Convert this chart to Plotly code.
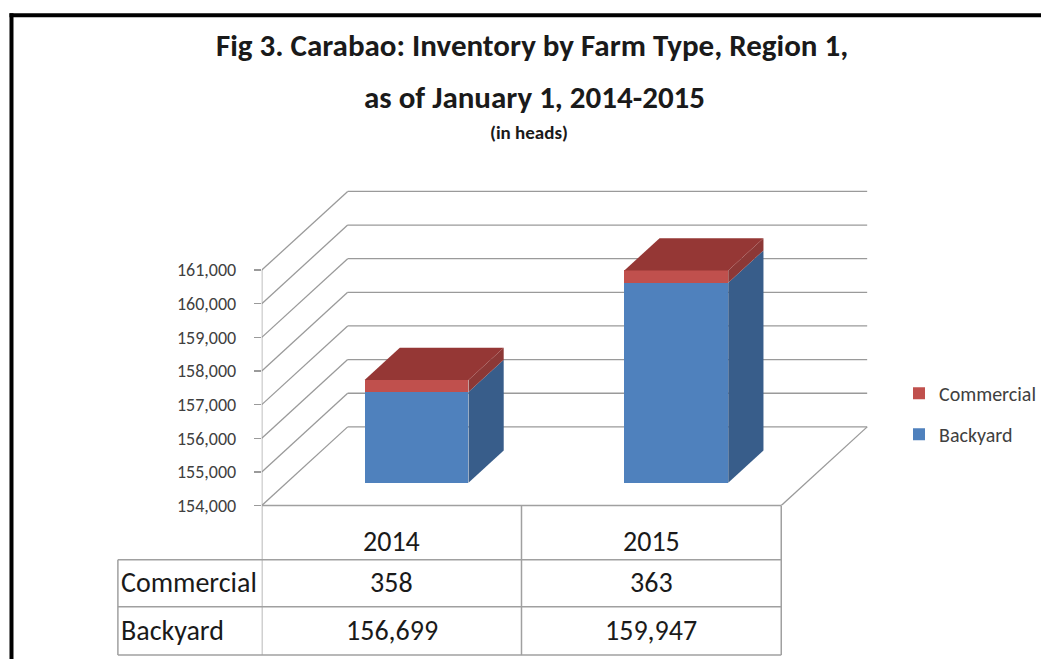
import plotly.graph_objects as go

# ---------------- data ----------------
years = ["2014", "2015"]
series_names = ["Commercial", "Backyard"]
backyard = [156699, 159947]
commercial = [358, 363]
y_tick_values = [154000, 155000, 156000, 157000, 158000, 159000, 160000, 161000]

# ---------------- layout constants ----------------
W, H = 1042, 670
AX_LEFT_PX = 262          # front-left corner of the floor
UNIT_PX = 260             # pixels per category
FLOOR_PX = 514            # pixel row of the front floor edge
PX_PER_K = 34.2           # pixels per 1000 heads
TOP_PX = 180

Y0 = y_tick_values[0]
DX = 86 / UNIT_PX                 # full depth, x units
DY = 80 / PX_PER_K * 1000         # full depth, y units
D0, D1 = 0.29, 0.70               # bar front/back depth fractions
HALF_W = 0.2                      # half bar width (category units)

BLUE, BLUE_SIDE = "#4F81BD", "#385D8A"
RED, RED_TOP, RED_SIDE = "#C0504D", "#953735", "#8C3836"
GRID = "#9A9A9A"
TABLE_LINE = "#A0A0A0"
FONT_T = "Carlito, DejaVu Sans Condensed, Liberation Sans Narrow, Liberation Sans, sans-serif"
FONT_REG = "Carlito, Liberation Sans, Arial, sans-serif"

xs = list(range(len(years)))
fig = go.Figure()

# front faces (bars, shifted into depth D0)
fig.add_trace(go.Bar(
    name=series_names[1], x=[i + D0 * DX for i in xs],
    y=[b - Y0 for b in backyard], base=Y0 + D0 * DY, width=2 * HALF_W,
    marker=dict(color=BLUE, line=dict(width=0)), legendgroup="b", legendrank=2,
    hoverinfo="skip"))
fig.add_trace(go.Bar(
    name=series_names[0], x=[i + D0 * DX for i in xs],
    y=commercial, base=[b + D0 * DY for b in backyard], width=2 * HALF_W,
    marker=dict(color=RED, line=dict(width=0)), legendgroup="c", legendrank=1,
    hoverinfo="skip"))


def side_face(i, lo, hi, color):
    xr = i + HALF_W
    px = [xr + D0 * DX, xr + D1 * DX, xr + D1 * DX, xr + D0 * DX, xr + D0 * DX]
    py = [lo + D0 * DY, lo + D1 * DY, hi + D1 * DY, hi + D0 * DY, lo + D0 * DY]
    fig.add_trace(go.Scatter(x=px, y=py, mode="lines", fill="toself",
                             fillcolor=color, line=dict(width=0, color=color),
                             showlegend=False, hoverinfo="skip"))


def top_face(i, top, color):
    xl, xr = i - HALF_W, i + HALF_W
    px = [xl + D0 * DX, xr + D0 * DX, xr + D1 * DX, xl + D1 * DX, xl + D0 * DX]
    py = [top + D0 * DY, top + D0 * DY, top + D1 * DY, top + D1 * DY, top + D0 * DY]
    fig.add_trace(go.Scatter(x=px, y=py, mode="lines", fill="toself",
                             fillcolor=color, line=dict(width=0, color=color),
                             showlegend=False, hoverinfo="skip"))


for i, b, c in zip(xs, backyard, commercial):
    side_face(i, Y0, b, BLUE_SIDE)
    side_face(i, b, b + c, RED_SIDE)
    top_face(i, b + c, RED_TOP)

# ---------------- walls / gridlines (shapes under the traces) ----------------
shapes = []
x_left, x_right = -0.5, len(years) - 0.5
for v in y_tick_values:
    shapes.append(dict(type="line", xref="x", yref="y", layer="below",
                       x0=x_left, y0=v, x1=x_left + DX, y1=v + DY,
                       line=dict(color=GRID, width=1.3)))
    shapes.append(dict(type="line", xref="x", yref="y", layer="below",
                       x0=x_left + DX, y0=v + DY, x1=x_right + DX, y1=v + DY,
                       line=dict(color=GRID, width=1.3)))
shapes.append(dict(type="line", xref="x", yref="y", layer="below",
                   x0=x_right, y0=Y0, x1=x_right + DX, y1=Y0 + DY,
                   line=dict(color=GRID, width=1.3)))
shapes.append(dict(type="line", xref="x", yref="y", layer="below",
                   x0=x_left, y0=Y0, x1=x_left, y1=y_tick_values[-1],
                   line=dict(color=GRID, width=1.3)))


# ---------------- data table ----------------
def py_(px):
    return (H - px) / H

ROW_TOP, ROW1, ROW2, ROW_BOT = 514, 569, 617, 666
TABLE_LEFT_PX = 118
shapes.append(dict(type="line", xref="x", yref="paper", x0=x_left, x1=x_right,
                   y0=py_(ROW_TOP), y1=py_(ROW_TOP), line=dict(color=TABLE_LINE, width=1.5)))
for r in (ROW1, ROW2, ROW_BOT):
    shapes.append(dict(type="line", xref="paper", yref="paper",
                       x0=TABLE_LEFT_PX / W, x1=(AX_LEFT_PX + UNIT_PX * len(years)) / W,
                       y0=py_(r), y1=py_(r), line=dict(color=TABLE_LINE, width=1.5)))
shapes.append(dict(type="line", xref="paper", yref="paper",
                   x0=TABLE_LEFT_PX / W, x1=TABLE_LEFT_PX / W,
                   y0=py_(ROW1), y1=py_(ROW_BOT), line=dict(color=TABLE_LINE, width=1.5)))
for k in range(len(years) + 1):
    xv = x_left + k
    shapes.append(dict(type="line", xref="x", yref="paper", x0=xv, x1=xv,
                       y0=py_(ROW_TOP), y1=py_(ROW_BOT), line=dict(color=TABLE_LINE, width=1.5)))

# outer frame (left and top edges only; the others are outside the view)
FRAME = dict(color="black", width=4)
shapes.append(dict(type="line", xref="paper", yref="paper",
                   x0=11.5 / W, x1=11.5 / W, y0=0, y1=py_(13.5), line=FRAME))
shapes.append(dict(type="line", xref="paper", yref="paper",
                   x0=9.5 / W, x1=1, y0=py_(15.5), y1=py_(15.5), line=FRAME))

annotations = []
TABLE_FONT = dict(family=FONT_REG, size=28, color="#1A1A1A")


def ann(x, y, text, font, xref="paper", xanchor="center"):
    annotations.append(dict(x=x, y=y, xref=xref, yref="paper", text=text,
                            xanchor=xanchor, yanchor="middle", showarrow=False, font=font))


for i, yr, c, b in zip(xs, years, commercial, backyard):
    ann(i, py_(551), yr, TABLE_FONT, xref="x")
    ann(i, py_(592), f"{c:,}", TABLE_FONT, xref="x")
    ann(i, py_(641), f"{b:,}", TABLE_FONT, xref="x")
ann(119 / W, py_(592), series_names[0], TABLE_FONT, xanchor="left")
ann(119 / W, py_(641), series_names[1], TABLE_FONT, xanchor="left")

# titles
TITLE_FONT = dict(family=FONT_T, size=31, color="#1A1A1A")
ann(533 / W, py_(46), "<b>Fig 3. Carabao: Inventory by Farm Type, Region 1,</b>", TITLE_FONT)
ann(535 / W, py_(99), "<b>as of January 1, 2014-2015</b>", TITLE_FONT)
ann(530 / W, py_(135), "<b>(in heads)</b>", dict(family=FONT_T, size=19, color="#1A1A1A"))

fig.update_layout(
    width=W, height=H, margin=dict(l=0, r=0, t=0, b=0),
    paper_bgcolor="white", plot_bgcolor="rgba(0,0,0,0)",
    barmode="overlay", bargap=0,
    shapes=shapes, annotations=annotations,
    showlegend=True,
    legend=dict(x=900 / W, y=py_(380), xanchor="left", yanchor="top",
                font=dict(family=FONT_REG, size=20, color="#404040"),
                traceorder="grouped", tracegroupgap=12, itemwidth=30,
                bgcolor="rgba(0,0,0,0)"),
    xaxis=dict(domain=[AX_LEFT_PX / W, 1], range=[-0.5, -0.5 + (W - AX_LEFT_PX) / UNIT_PX],
               visible=False, fixedrange=True),
    yaxis=dict(domain=[(H - FLOOR_PX) / H, (H - TOP_PX) / H],
               range=[Y0, Y0 + (FLOOR_PX - TOP_PX) / PX_PER_K * 1000],
               tickvals=y_tick_values, ticktext=[f"{v:,}" for v in y_tick_values],
               ticks="outside", ticklen=7, tickcolor=GRID, tickwidth=1.3,
               ticklabelstandoff=14,
               tickfont=dict(family=FONT_REG, size=18, color="#404040"),
               showgrid=False, zeroline=False, showline=False, fixedrange=True),
)

fig.write_html(
    "out.html",
    config={"displayModeBar": False, "staticPlot": True},
    post_script="document.body.style.margin='0px';"
                "document.body.style.overflow='hidden';"
                "document.documentElement.style.overflow='hidden';",
)
